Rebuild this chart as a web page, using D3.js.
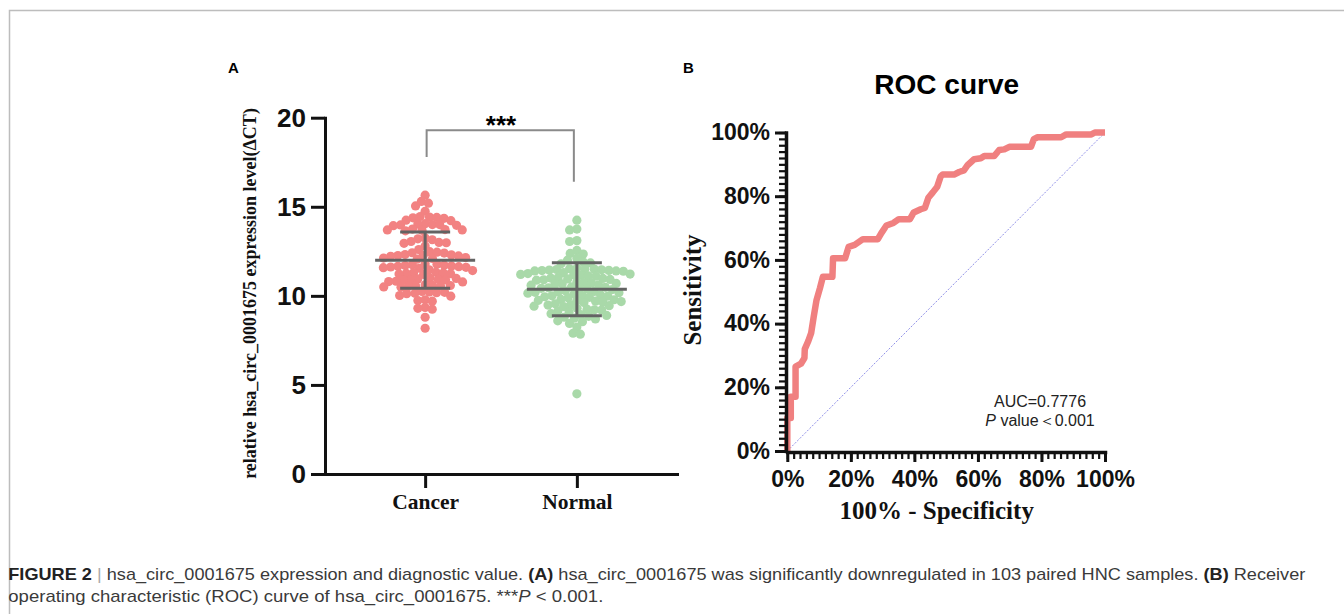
<!DOCTYPE html>
<html>
<head>
<meta charset="utf-8">
<script src="https://cdn.jsdelivr.net/npm/d3@7"></script>
<style>
  body { margin: 0; background: #fff; }
  svg { display: block; }
</style>
</head>
<body>
<svg id="fig"></svg>
<script>
// panel A data
var groups = ["Cancer", "Normal"];
var cancerValues = [
  15.65, 15.3, 15.2, 15.05, 14.75,
  14.45, 14.42, 14.4, 14.38, 14.35, 14.25, 14.22,
  14.05, 14.03, 14.0, 14.0, 13.98, 13.96, 13.94,
  13.75, 13.72, 13.7, 13.7, 13.68, 13.65,
  13.25, 13.2, 13.15, 13.05, 13.0, 12.98, 12.95,
  12.8, 12.6, 12.48, 12.45, 12.42, 12.4,
  12.32, 12.3, 12.28, 12.26, 12.24, 12.22,
  12.15, 12.12, 12.1, 12.06,
  11.8, 11.78, 11.75, 11.72, 11.7, 11.68, 11.66, 11.64, 11.62, 11.6, 11.58, 11.55,
  11.46, 11.42,
  11.32, 11.3, 11.28, 11.26, 11.24, 11.22, 11.2,
  11.0, 10.98, 10.95, 10.93, 10.91, 10.89, 10.87,
  10.82, 10.8, 10.78,
  10.62, 10.6, 10.58, 10.56, 10.54, 10.52, 10.5, 10.48,
  10.25, 10.22, 10.2, 10.18, 10.15, 10.12,
  10.02, 9.98, 9.78, 9.74, 9.7,
  9.35, 9.3, 9.25, 8.8, 8.18
];
var normalValues = [
  14.25, 13.75, 13.7, 13.1, 13.05, 12.55, 12.38, 12.35, 12.1, 12.0,
  11.9, 11.85, 11.8,
  11.55, 11.52, 11.5, 11.5, 11.48, 11.46, 11.45, 11.43, 11.42, 11.4, 11.4, 11.38,
  11.3, 11.25, 11.22, 11.2, 11.18, 11.15, 11.12, 11.1,
  11.02, 11.0, 10.98, 10.95, 10.92, 10.9, 10.88,
  10.78, 10.75, 10.72, 10.7, 10.68, 10.65, 10.62, 10.6,
  10.5, 10.48, 10.45, 10.42, 10.4, 10.38, 10.35,
  10.28, 10.25, 10.22, 10.2, 10.18, 10.15, 10.12,
  10.05, 10.02, 10.0, 9.98, 9.95, 9.92, 9.9,
  9.8, 9.78, 9.75, 9.72, 9.7, 9.68, 9.65, 9.62,
  9.55, 9.5, 9.48, 9.45, 9.42, 9.4,
  9.3, 9.25, 9.22, 9.2, 9.15, 9.1,
  9.0, 8.95, 8.9, 8.85, 8.8, 8.75,
  8.7, 8.6, 8.55, 8.45,
  8.25, 7.9, 7.85, 4.5
];
var groupMeans = [12.0, 10.37];
var groupSDs = [1.58, 1.49];
var groupColors = ["#f28282", "#a9d9a9"];
var yTicksA = [0, 5, 10, 15, 20];
var bracketLevels = [17.8, 19.3, 16.4]; // left leg end, bar, right leg end

// panel B data (percent)
var rocFPR = [0, 0, 1.1, 1.1, 2.6, 2.6, 4.3, 5.4, 5.5, 6.6, 7.5, 8.3, 9.2, 10.3, 11.2,
  14.2, 14.4, 18.2, 19.3, 21.2, 23.8, 28.5, 29.6, 31.2, 33.4, 35.1, 38.6, 39.8, 42.0,
  43.3, 44.4, 45.8, 47.2, 48.3, 48.9, 52.5, 54.1, 55.6, 56.8, 58.8, 60.9, 62.0, 65.1,
  66.7, 68.3, 69.9, 76.7, 77.6, 78.8, 86.2, 87.8, 95.7, 96.8, 100];
var rocTPR = [0, 10.4, 10.4, 17.0, 17.0, 26.5, 27.4, 29.2, 32.0, 34.5, 37.0, 42.1, 47.4,
  51.2, 54.7, 54.7, 60.5, 60.5, 64.1, 64.7, 66.5, 66.5, 68.4, 70.8, 71.6, 72.8, 72.8,
  74.9, 75.9, 76.3, 79.5, 81.2, 83.0, 86.3, 86.8, 86.8, 87.6, 88.1, 89.8, 91.6, 91.9,
  92.6, 92.6, 94.5, 94.7, 95.5, 95.5, 97.9, 98.5, 98.5, 99.4, 99.4, 100, 100];
var rocTicks = [0, 20, 40, 60, 80, 100];
var rocMinorTicks = d3.range(0, 101, 2);
var aucLabel = "AUC=0.7776";

var width = 1344, height = 614;
var svg = d3.select("#fig").attr("width", width).attr("height", height);

// figure frame
svg.append("path")
  .attr("d", "M9.5,614V10.5H1344")
  .attr("fill", "none")
  .attr("stroke", "#bdbdbd")
  .attr("stroke-width", 1.5);

// ---------- panel A ----------
var yA = d3.scaleLinear().domain([0, 20]).range([474, 117.7]);
var xA = d3.scalePoint().domain(groups).range([325, 677]).padding(0.66);

svg.append("text")
  .attr("x", 228).attr("y", 72.5)
  .style("font", "bold 15px Arial, 'Liberation Sans', sans-serif")
  .text("A");

function swarm(values, cx, spacing) {
  var pts = values.map(function (v) { return { v: v, y: yA(v) }; })
    .sort(function (a, b) { return a.y - b.y; });
  var placed = [];
  pts.forEach(function (p) {
    var cands = [0];
    placed.forEach(function (q) {
      var dy = Math.abs(q.y - p.y);
      if (dy < spacing) {
        var dx = Math.sqrt(spacing * spacing - dy * dy);
        cands.push(q.x + dx, q.x - dx);
      }
    });
    cands.sort(function (a, b) { return Math.abs(a) - Math.abs(b) || a - b; });
    for (var i = 0; i < cands.length; i++) {
      var ok = placed.every(function (q) {
        var dx = q.x - cands[i], dy = q.y - p.y;
        return dx * dx + dy * dy >= spacing * spacing - 0.01;
      });
      if (ok) { p.x = cands[i]; break; }
    }
    placed.push(p);
  });
  return placed.map(function (p) { return { x: cx + p.x, y: p.y }; });
}

[cancerValues, normalValues].forEach(function (vals, gi) {
  var pts = swarm(vals, xA(groups[gi]), 7.3);
  svg.append("g")
    .selectAll("circle")
    .data(pts)
    .enter()
    .append("circle")
    .attr("cx", function (d) { return d.x; })
    .attr("cy", function (d) { return d.y; })
    .attr("r", 4.6)
    .attr("fill", groupColors[gi]);
});

// mean +/- SD
groups.forEach(function (g, gi) {
  var cx = xA(g), m = groupMeans[gi], s = groupSDs[gi];
  var gg = svg.append("g").attr("stroke", "#636363").attr("stroke-width", 3).attr("fill", "none");
  gg.append("line").attr("x1", cx - 50).attr("x2", cx + 50).attr("y1", yA(m)).attr("y2", yA(m));
  gg.append("line").attr("x1", cx).attr("x2", cx).attr("y1", yA(m - s)).attr("y2", yA(m + s));
  gg.append("line").attr("x1", cx - 25).attr("x2", cx + 25).attr("y1", yA(m + s)).attr("y2", yA(m + s));
  gg.append("line").attr("x1", cx - 25).attr("x2", cx + 25).attr("y1", yA(m - s)).attr("y2", yA(m - s));
});

// significance bracket
svg.append("path")
  .attr("d", "M" + (xA("Cancer") + 1.5) + "," + yA(bracketLevels[0]) +
    "V" + yA(bracketLevels[1]) + "H" + (xA("Normal") - 3) + "V" + yA(bracketLevels[2]))
  .attr("fill", "none")
  .attr("stroke", "#8a8a8a")
  .attr("stroke-width", 2);
svg.append("text")
  .attr("x", (xA("Cancer") + xA("Normal")) / 2)
  .attr("y", 134)
  .attr("text-anchor", "middle")
  .style("font", "bold 26px Arial, 'Liberation Sans', sans-serif")
  .text("***");

var yAxisA = svg.append("g")
  .attr("transform", "translate(325,0)")
  .call(d3.axisLeft(yA).tickValues(yTicksA).tickSize(14).tickPadding(5).tickSizeOuter(0));
var xAxisA = svg.append("g")
  .attr("transform", "translate(0,474)")
  .call(d3.axisBottom(xA).tickSize(14).tickPadding(6).tickSizeOuter(0));
[yAxisA, xAxisA].forEach(function (ax) {
  ax.select(".domain").attr("stroke", "#111").attr("stroke-width", 3).attr("stroke-linecap", "square");
  ax.selectAll(".tick line").attr("stroke", "#111").attr("stroke-width", 3);
  ax.selectAll(".tick text").attr("fill", "#111");
});
yAxisA.selectAll(".tick text").style("font", "bold 26px Arial, 'Liberation Sans', sans-serif");
xAxisA.selectAll(".tick text").style("font", "bold 21.5px 'Times New Roman', 'Liberation Serif', serif");

svg.append("text")
  .attr("text-anchor", "middle")
  .attr("transform", "translate(256,293.5)rotate(-90)")
  .style("font", "bold 18px 'Times New Roman', 'Liberation Serif', serif")
  .attr("fill", "#111")
  .text("relative hsa_circ_0001675 expression level(\u0394CT)");

// ---------- panel B ----------
var xB = d3.scaleLinear().domain([0, 100]).range([787.3, 1105]);
var yB = d3.scaleLinear().domain([0, 100]).range([451, 132.5]);

svg.append("text")
  .attr("x", 683).attr("y", 72.5)
  .style("font", "bold 15px Arial, 'Liberation Sans', sans-serif")
  .text("B");

svg.append("text")
  .attr("x", 946.7).attr("y", 94)
  .attr("text-anchor", "middle")
  .style("font", "bold 28px Arial, 'Liberation Sans', sans-serif")
  .text("ROC curve");

// diagonal reference
svg.append("line")
  .attr("x1", xB(0)).attr("y1", yB(0))
  .attr("x2", xB(100)).attr("y2", yB(100))
  .attr("stroke", "#8f8fe8")
  .attr("stroke-width", 1)
  .attr("stroke-dasharray", "2,1.5");

var rocPoints = rocFPR.map(function (f, i) { return [f, rocTPR[i]]; });
var rocLine = d3.line()
  .x(function (d) { return xB(d[0]); })
  .y(function (d) { return yB(d[1]); });
svg.append("path")
  .attr("d", rocLine(rocPoints))
  .attr("fill", "none")
  .attr("stroke", "#f08080")
  .attr("stroke-width", 6.5)
  .attr("stroke-linejoin", "round");

// minor ticks
var yMinor = svg.append("g")
  .attr("transform", "translate(786,0)")
  .call(d3.axisLeft(yB).tickValues(rocMinorTicks).tickSize(7).tickFormat("").tickSizeOuter(0));
var xMinor = svg.append("g")
  .attr("transform", "translate(0,452)")
  .call(d3.axisBottom(xB).tickValues(rocMinorTicks).tickSize(7).tickFormat("").tickSizeOuter(0));
[yMinor, xMinor].forEach(function (ax) {
  ax.select(".domain").remove();
  ax.selectAll(".tick line").attr("stroke", "#111").attr("stroke-width", 2.2);
});

var yAxisB = svg.append("g")
  .attr("transform", "translate(786,0)")
  .call(d3.axisLeft(yB).tickValues(rocTicks).tickSize(11).tickPadding(5).tickSizeOuter(0)
    .tickFormat(function (d) { return d + "%"; }));
var xAxisB = svg.append("g")
  .attr("transform", "translate(0,452)")
  .call(d3.axisBottom(xB).tickValues(rocTicks).tickSize(10).tickPadding(9).tickSizeOuter(0)
    .tickFormat(function (d) { return d + "%"; }));
[yAxisB, xAxisB].forEach(function (ax) {
  ax.select(".domain").attr("stroke", "#111").attr("stroke-width", 3.5).attr("stroke-linecap", "square");
  ax.selectAll(".tick line").attr("stroke", "#111").attr("stroke-width", 3);
  ax.selectAll(".tick text").attr("fill", "#111")
    .style("font", "bold 23px Arial, 'Liberation Sans', sans-serif");
});

svg.append("text")
  .attr("text-anchor", "middle")
  .attr("transform", "translate(701,290)rotate(-90)")
  .style("font", "bold 25px 'Times New Roman', 'Liberation Serif', serif")
  .attr("fill", "#111")
  .text("Sensitivity");
svg.append("text")
  .attr("x", 936.7).attr("y", 519)
  .attr("text-anchor", "middle")
  .style("font", "bold 25px 'Times New Roman', 'Liberation Serif', serif")
  .attr("fill", "#111")
  .text("100% - Specificity");

svg.append("text")
  .attr("x", 1040).attr("y", 407)
  .attr("text-anchor", "middle")
  .style("font", "16px Arial, 'Liberation Sans', sans-serif")
  .attr("fill", "#222")
  .text(aucLabel);
var pv = svg.append("text")
  .attr("x", 1040).attr("y", 426)
  .attr("text-anchor", "middle")
  .style("font", "16px Arial, 'Liberation Sans', sans-serif")
  .attr("fill", "#222");
pv.append("tspan").style("font-style", "italic").text("P");
pv.append("tspan").text(" value\uFF1C0.001");

// ---------- caption ----------
var capFont = "17px 'Liberation Sans Narrow', 'Arial Narrow', Arial, 'Liberation Sans', sans-serif";
var cap1 = svg.append("text")
  .attr("x", 8.3).attr("y", 580)
  .attr("textLength", 1297)
  .attr("lengthAdjust", "spacingAndGlyphs")
  .style("font", capFont)
  .attr("fill", "#3a3a3a");
cap1.append("tspan").style("font-weight", "bold").attr("fill", "#222").text("FIGURE 2");
cap1.append("tspan").attr("fill", "#aaa").text(" | ");
cap1.append("tspan").text("hsa_circ_0001675 expression and diagnostic value. ");
cap1.append("tspan").style("font-weight", "bold").attr("fill", "#222").text("(A)");
cap1.append("tspan").text(" hsa_circ_0001675 was significantly downregulated in 103 paired HNC samples. ");
cap1.append("tspan").style("font-weight", "bold").attr("fill", "#222").text("(B)");
cap1.append("tspan").text(" Receiver");

var cap2 = svg.append("text")
  .attr("x", 8.3).attr("y", 602)
  .attr("textLength", 595)
  .attr("lengthAdjust", "spacingAndGlyphs")
  .style("font", capFont)
  .attr("fill", "#3a3a3a");
cap2.append("tspan").text("operating characteristic (ROC) curve of hsa_circ_0001675. ***");
cap2.append("tspan").style("font-style", "italic").text("P");
cap2.append("tspan").text(" < 0.001.");
</script>
</body>
</html>
